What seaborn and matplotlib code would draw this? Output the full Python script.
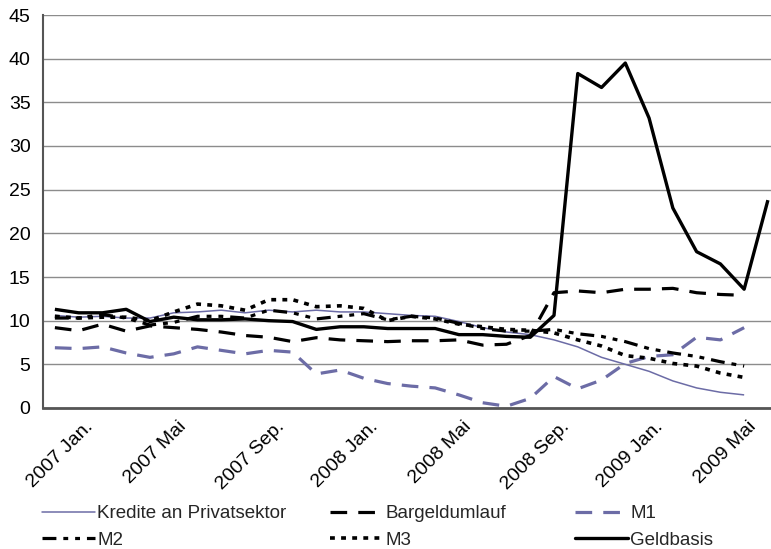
import numpy as np
import pandas as pd
import matplotlib
matplotlib.use("Agg")
import matplotlib.pyplot as plt
import matplotlib.transforms as mtransforms
import seaborn as sns
from matplotlib.lines import Line2D

months = ["Jan.", "Feb.", "Mär.", "Apr.", "Mai", "Jun.", "Jul.", "Aug.", "Sep.", "Okt.", "Nov.", "Dez."]
categories = [f"{y} {m}" for y in (2007, 2008, 2009) for m in months][:31]
tick_labels = ["2007 Jan.", "2007 Mai", "2007 Sep.", "2008 Jan.", "2008 Mai",
               "2008 Sep.", "2009 Jan.", "2009 Mai"]

kredite = [10.6, 10.4, 10.5, 10.3, 10.3, 10.9, 11.0, 11.2, 10.9, 11.2, 11.0, 11.2, 11.0, 11.0,
           10.8, 10.6, 10.5, 9.9, 9.2, 8.7, 8.4, 7.8, 7.0, 5.8, 5.0, 4.2, 3.1, 2.3, 1.8, 1.5, np.nan]
bargeld = [9.2, 8.85, 9.6, 8.8, 9.4, 9.2, 9.0, 8.7, 8.3, 8.1, 7.6, 8.05, 7.8, 7.7,
           7.6, 7.7, 7.7, 7.8, 7.2, 7.3, 8.3, 13.2, 13.4, 13.2, 13.6, 13.6, 13.7, 13.2, 13.0, 12.9, np.nan]
m1 = [6.9, 6.8, 7.0, 6.3, 5.8, 6.2, 7.0, 6.6, 6.2, 6.6, 6.4, 3.9, 4.35, 3.4,
      2.8, 2.5, 2.3, 1.5, 0.6, 0.2, 1.1, 3.6, 2.2, 3.2, 5.1, 5.9, 6.1, 8.1, 7.8, 9.2, np.nan]
m2 = [10.3, 10.3, 10.7, 10.3, 9.5, 9.8, 10.5, 10.5, 10.3, 11.2, 10.9, 10.2, 10.5, 10.8,
      10.1, 10.5, 10.3, 9.7, 9.1, 8.8, 8.8, 9.0, 8.5, 8.2, 7.6, 6.8, 6.3, 5.9, 5.3, 4.8, np.nan]
m3 = [10.5, 10.3, 10.4, 10.4, 10.0, 11.0, 11.9, 11.7, 11.2, 12.4, 12.4, 11.6, 11.7, 11.4,
      10.0, 10.5, 10.2, 9.6, 9.3, 9.0, 8.9, 8.6, 7.8, 7.1, 6.0, 5.7, 5.1, 4.8, 4.0, 3.5, np.nan]
geldbasis = [11.3, 10.9, 10.9, 11.3, 9.9, 10.4, 10.1, 10.1, 10.2, 10.0, 9.9, 9.0, 9.3, 9.3,
             9.1, 9.1, 9.1, 8.4, 8.4, 8.2, 8.1, 10.6, 38.3, 36.7, 39.5, 33.2, 22.9, 17.9, 16.5, 13.6, 23.8]

series_names = ["Kredite an Privatsektor", "Bargeldumlauf", "M1", "M2", "M3", "Geldbasis"]
series_values = [kredite, bargeld, m1, m2, m3, geldbasis]

purple = "#6C6CA6"
styles = {
    "Kredite an Privatsektor": dict(color=purple, lw=1.1, dashes=()),
    "Bargeldumlauf": dict(color="black", lw=2.3, dashes=(12, 8)),
    "M1": dict(color=purple, lw=2.3, dashes=(12, 8)),
    "M2": dict(color="black", lw=2.3, dashes=(10, 5, 3.5, 5, 3.5, 5)),
    "M3": dict(color="black", lw=2.6, dashes=(3.5, 4.5)),
    "Geldbasis": dict(color="black", lw=2.4, dashes=()),
}

rows = []
for name, vals in zip(series_names, series_values):
    for i, v in enumerate(vals):
        rows.append({"idx": i, "Monat": categories[i], "Serie": name, "Wert": v})
df = pd.DataFrame(rows)

sns.set_style("white")
plt.rcParams["font.family"] = ["Liberation Sans", "DejaVu Sans"]
plt.rcParams["lines.scale_dashes"] = False

fig = plt.figure(figsize=(7.71, 5.49), dpi=100)
ax = fig.add_axes([43 / 771, 1 - 408 / 549, (771 - 43) / 771, (408 - 15) / 549])

handles = {}
for name in series_names:
    sub = df[df["Serie"] == name].dropna()
    st = styles[name]
    sns.lineplot(data=sub, x="idx", y="Wert", ax=ax, color=st["color"], lw=st["lw"],
                 legend=False, errorbar=None)
    line = ax.get_lines()[-1]
    if st["dashes"]:
        line.set_dashes(st["dashes"])
    line.set_solid_capstyle("butt")
    line.set_dash_capstyle("butt")
    h = Line2D([], [], color=st["color"], lw=st["lw"])
    if st["dashes"]:
        h.set_dashes(st["dashes"])
    h.set_dash_capstyle("butt")
    handles[name] = h

ax.set_xlim(-0.5, 30.13)
ax.set_ylim(0, 45)
ax.set_yticks(range(0, 46, 5))
ax.set_xticks(range(0, 31, 4))
ax.set_xticklabels(tick_labels, rotation=45, ha="center")
ax.set_xlabel("")
ax.set_ylabel("")
ax.tick_params(axis="both", length=0, labelsize=14, colors="black")
ax.tick_params(axis="y", pad=9)
ax.tick_params(axis="x", pad=7)
offset = mtransforms.ScaledTranslation(5 / 100, 0, fig.dpi_scale_trans)
for lab in ax.get_xticklabels():
    lab.set_transform(lab.get_transform() + offset)
ax.yaxis.grid(True, color="#8c8c8c", lw=1.0)
ax.xaxis.grid(False)
ax.set_axisbelow(True)
for s in ("top", "right"):
    ax.spines[s].set_visible(False)
ax.spines["left"].set_color("#555555")
ax.spines["left"].set_linewidth(1.5)
ax.spines["bottom"].set_color("#555555")
ax.spines["bottom"].set_linewidth(2.0)

cols = [["Kredite an Privatsektor", "M2"], ["Bargeldumlauf", "M3"], ["M1", "Geldbasis"]]
xs = [42, 330, 575]
for xpos, col in zip(xs, cols):
    fig.legend([handles[n] for n in col], col, loc="upper left",
               bbox_to_anchor=(xpos / 771, 1 - 505 / 549), frameon=False,
               fontsize=13.5, handlelength=2.8, handletextpad=0.15,
               labelspacing=0.5, borderpad=0, borderaxespad=0)

fig.savefig("out.png", dpi=100)
